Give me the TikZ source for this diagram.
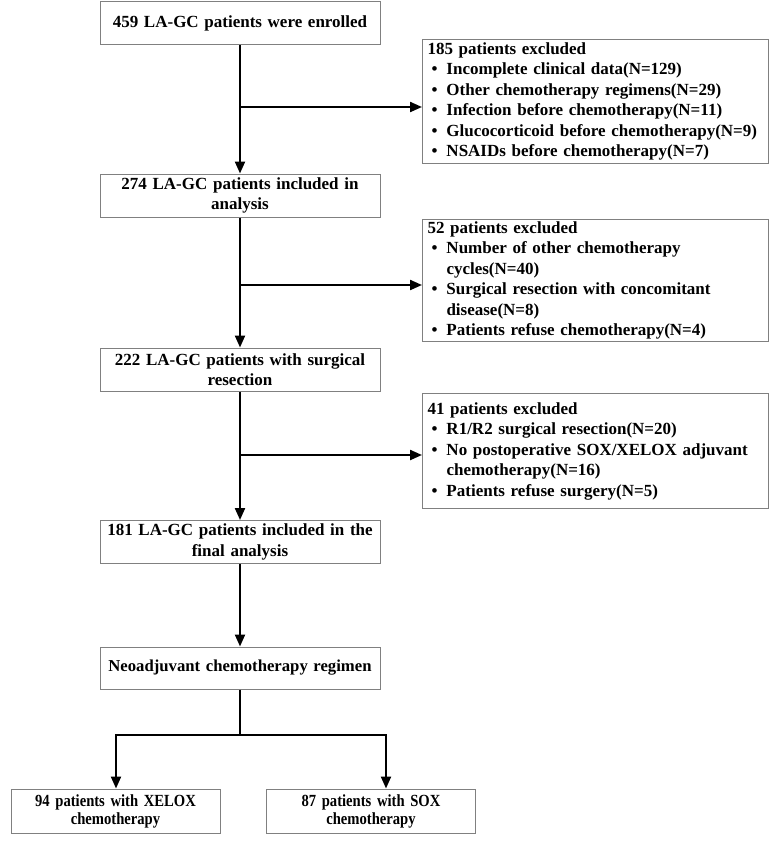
\documentclass[tikz,border=0pt]{standalone}
\usepackage{fontspec}
\setmainfont{Liberation Serif}
\newfontfamily\condfont[FakeStretch=0.86]{Liberation Serif}
\usetikzlibrary{arrows.meta}
\definecolor{boxgray}{HTML}{808080}
\newcommand\bl{\makebox[19pt][l]{\hspace{4pt}\textbullet}}
\newcommand\ind{\hspace*{19pt}}
\begin{document}
\begin{tikzpicture}[x=1pt,y=-1pt,
  txt/.style={font=\fontsize{17}{20.5}\selectfont\bfseries},
  mainbox/.style={txt,draw=boxgray,line width=1pt,fill=white,align=center,inner sep=1pt,text width=278pt,minimum height=43pt},
  smallbox/.style={font=\condfont\fontsize{17}{18}\selectfont\bfseries,draw=boxgray,line width=1pt,fill=white,align=center,inner sep=1pt,text width=207pt,minimum height=44pt},
  exbox/.style={txt,draw=boxgray,line width=1pt,fill=white,align=left,anchor=north west,inner xsep=5pt,inner ysep=1pt,text width=336pt},
  arr/.style={line width=2.2pt,-{Triangle[length=12pt,width=10pt]}},
  ln/.style={line width=2.2pt}]
\useasboundingbox (0,0) rectangle (776,841);

\node[mainbox] (b1) at (240,23) {459 LA-GC patients were enrolled};
\node[mainbox] (b2) at (240,195.5) {274 LA-GC patients included in\\analysis};
\node[mainbox] (b3) at (240,369.5) {222 LA-GC patients with surgical\\resection};
\node[mainbox] (b4) at (240,542) {181 LA-GC patients included in the\\final analysis};
\node[mainbox,minimum height=42pt,font=\fontsize{16.7}{20}\selectfont\bfseries] (b5) at (240,668) {Neoadjuvant chemotherapy regimen};
\node[smallbox] (xel) at (115.5,811) {94 patients with XELOX\\chemotherapy};
\node[smallbox] (sox) at (371,811) {87 patients with SOX\\chemotherapy};

\node[exbox,minimum height=124pt] (e1) at (422,39) {185 patients excluded\\
\bl Incomplete clinical data(N=129)\\
\bl Other chemotherapy regimens(N=29)\\
\bl Infection before chemotherapy(N=11)\\
\bl Glucocorticoid before chemotherapy(N=9)\\
\bl NSAIDs before chemotherapy(N=7)};

\node[exbox,minimum height=122pt] (e2) at (422,219) {52 patients excluded\\
\bl Number of other chemotherapy\\
\ind cycles(N=40)\\
\bl Surgical resection with concomitant\\
\ind disease(N=8)\\
\bl Patients refuse chemotherapy(N=4)};

\node[exbox,minimum height=115pt] (e3) at (422,393) {41 patients excluded\\
\bl R1/R2 surgical resection(N=20)\\
\bl No postoperative SOX/XELOX adjuvant\\
\ind chemotherapy(N=16)\\
\bl Patients refuse surgery(N=5)};

\draw[arr] (b1) -- (b2);
\draw[arr] (b2) -- (b3);
\draw[arr] (b3) -- (b4);
\draw[arr] (b4) -- (b5);

\coordinate (j1) at (240,107);
\coordinate (j2) at (240,285);
\coordinate (j3) at (240,455);
\draw[arr] (j1) -- (j1 -| e1.west);
\draw[arr] (j2) -- (j2 -| e2.west);
\draw[arr] (j3) -- (j3 -| e3.west);

\coordinate (sp) at (240,735);
\coordinate (sxl) at (116,735);
\coordinate (ssx) at (386,735);
\draw[ln] (b5.south) -- (sp);
\draw[arr] (sp) -- (sxl) -- (sxl |- xel.north);
\draw[arr] (sp) -- (ssx) -- (ssx |- sox.north);
\end{tikzpicture}
\end{document}
